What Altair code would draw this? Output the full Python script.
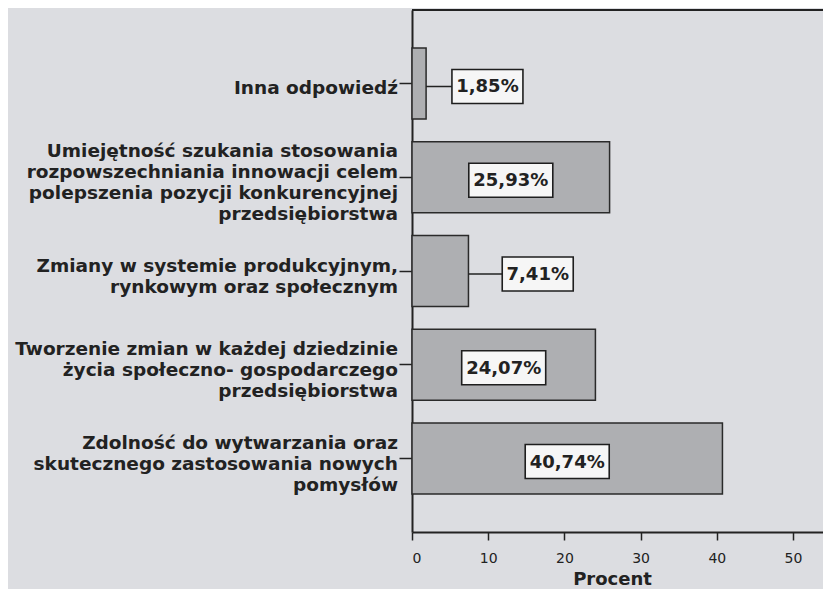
import altair as alt
import pandas as pd

# ---- data ----
categories = [
    "Inna odpowiedź",
    "Umiejętność szukania stosowania|rozpowszechniania innowacji celem|polepszenia pozycji konkurencyjnej|przedsiębiorstwa",
    "Zmiany w systemie produkcyjnym,|rynkowym oraz społecznym",
    "Tworzenie zmian w każdej dziedzinie|życia społeczno- gospodarczego|przedsiębiorstwa",
    "Zdolność do wytwarzania oraz|skutecznego zastosowania nowych|pomysłów",
]
values = [1.85, 25.93, 7.41, 24.07, 40.74]
# label position (data units) for bars whose label sits outside; None = centred in bar
outside_label_x = [9.9, None, 16.5, None, None]
x_ticks = [0, 10, 20, 30, 40, 50]

W, H = 411, 522
PAD_IN, PAD_OUT = 0.243, 0.405
STEP = H / (len(categories) - PAD_IN + 2 * PAD_OUT)
BANDWIDTH = STEP * (1 - PAD_IN)

LH = 21  # label line height
labels = [f"{v:.2f}".replace(".", ",") + "%" for v in values]
label_x = [ox if ox is not None else v / 2 for ox, v in zip(outside_label_x, values)]
n_lines = [c.count("|") + 1 for c in categories]


def box_path(text):
    w = 13 * len(text) + 6  # px
    hw = w / 2 / 42
    hh = 17 / 42
    return f"M{-hw},{-hh}L{hw},{-hh}L{hw},{hh}L{-hw},{hh}Z"


df = pd.DataFrame({
    "cat": categories,
    "value": values,
    "label": labels,
    "lx": label_x,
    "outside": [o is not None for o in outside_label_x],
    "shape": [box_path(t) for t in labels],
    "yoff": [BANDWIDTH / 2 - (n - 1) * LH / 2 + 5 for n in n_lines],
})

FONT = "DejaVu Sans"
INK = "#222222"
BG = "#dcdde1"

y_scale = alt.Scale(paddingInner=PAD_IN, paddingOuter=PAD_OUT)
y_enc = alt.Y(
    "cat:N",
    sort=categories,
    title=None,
    scale=y_scale,
    axis=alt.Axis(
        labels=False,
        tickSize=13,
        tickWidth=1.5,
        tickColor=INK,
        domainColor=INK,
        domainWidth=2,
        grid=False,
    ),
)

x_scale = alt.Scale(domain=[0, W / 7.62], nice=False, zero=True)
x_enc = alt.X(
    "value:Q",
    scale=x_scale,
    axis=alt.Axis(
        values=x_ticks,
        title="Procent",
        titleFont=FONT,
        titleFontSize=18,
        titleFontWeight="bold",
        titleColor=INK,
        titleX=200,
        titleY=47,
        titleBaseline="middle",
        labelFont=FONT,
        labelFontSize=14,
        labelColor=INK,
        labelPadding=11,
        tickSize=8,
        tickWidth=1.5,
        tickColor=INK,
        domainColor=INK,
        domainWidth=2,
        grid=False,
    ),
)

base = alt.Chart(df)

bars = base.mark_bar(fill="#aeafb2", stroke="#2a2a2a", strokeWidth=1.5).encode(
    x=x_enc, y=y_enc
)

cat_labels = base.transform_calculate(lines="split(datum.cat, '|')").mark_text(
    font=FONT, fontSize=18.5, fontWeight="bold", color=INK, align="right",
    baseline="middle", lineHeight=LH,
).encode(
    x=alt.value(-14),
    y=alt.Y("cat:N", sort=categories),
    yOffset=alt.YOffset("yoff:Q", scale=None),
    text="lines:N",
)

connectors = base.transform_filter("datum.outside").mark_rule(
    color=INK, strokeWidth=1.5, yOffset=3
).encode(
    x=alt.X("value:Q", scale=x_scale),
    x2="lx:Q",
    y=alt.Y("cat:N", sort=categories, bandPosition=0.5),
)

boxes = base.mark_point(
    filled=True, fill="#f6f6f6", stroke="#1e1e1e", strokeWidth=1.6, opacity=1, size=84 * 84, yOffset=3
).encode(
    x=alt.X("lx:Q", scale=x_scale),
    y=alt.Y("cat:N", sort=categories),
    shape=alt.Shape("shape:N", scale=None, legend=None),
)

texts = base.mark_text(
    font=FONT, fontSize=18, fontWeight="bold", color=INK, align="center", baseline="middle", dy=4
).encode(
    x=alt.X("lx:Q", scale=x_scale),
    y=alt.Y("cat:N", sort=categories),
    text="label:N",
)

top_line = alt.Chart(pd.DataFrame({"a": [0]})).mark_rule(color=INK, strokeWidth=2).encode(
    x=alt.value(0), x2=alt.value(W), y=alt.value(0)
)

chart = (
    alt.layer(bars, cat_labels, connectors, boxes, texts, top_line)
    .properties(
        width=W,
        height=H,
        background=BG,
        autosize=alt.AutoSizeParams(type="none"),
        padding={"left": 404, "top": 2, "right": 0, "bottom": 57},
    )
    .configure_view(stroke=None, fill=BG)
)

chart.save("out.html", embed_options={"renderer": "svg", "actions": False})
